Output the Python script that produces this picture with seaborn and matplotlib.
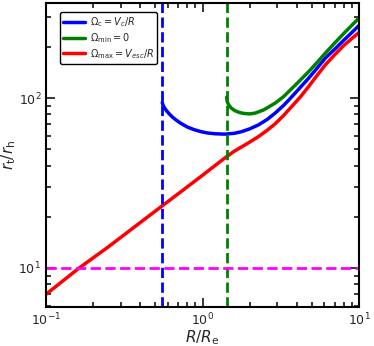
import numpy as np
import pandas as pd
import seaborn as sns
import matplotlib
matplotlib.use("Agg")
import matplotlib.pyplot as plt

# curves (R/Re, rt/rh)
r_blue = [0.553, 0.56, 0.573, 0.59, 0.61, 0.64, 0.68, 0.73, 0.80, 0.88, 0.97, 1.07, 1.2, 1.39,
          1.6, 1.78, 2.0, 2.28, 2.6, 2.91, 3.3, 3.73, 4.2, 4.77, 5.4, 6.1, 7.0, 8.0, 9.0, 10.0]
rt_blue = [94.1, 90.5, 87.2, 84.0, 81.0, 77.5, 74.0, 70.8, 67.5, 65.2, 63.5, 62.3, 61.6, 61.3,
           62.0, 63.4, 65.8, 69.5, 75.0, 81.5, 90.5, 102, 115, 131, 150, 172, 194, 219, 243, 267]

r_green = [1.426, 1.44, 1.47, 1.52, 1.6, 1.7, 1.82, 2.0, 2.17, 2.45, 2.91, 3.3, 3.73, 4.2,
           4.77, 5.4, 6.1, 7.0, 8.0, 9.0, 10.0]
rt_green = [101, 95.0, 91.0, 87.5, 84.5, 82.5, 81.2, 80.6, 81.5, 85.0, 93.3, 102, 114, 127,
            143, 162, 184, 211, 240, 268, 296]

r_red = [0.1, 0.163, 0.25, 0.4, 0.553, 0.75, 1.0, 1.2, 1.426, 1.6, 1.78, 2.0, 2.28, 2.6, 2.91,
         3.3, 3.73, 4.2, 4.77, 5.4, 6.1, 7.0, 8.0, 9.0, 10.0]
rt_red = [7.0, 10.0, 13.3, 18.5, 23.2, 28.7, 35.1, 40.0, 45.2, 48.7, 51.6, 55.0, 59.3, 64.8, 70.5,
          79.0, 89.5, 101, 117, 136, 157, 180, 204, 224, 243]

r_circ = 0.553   # blue dashed
r_min = 1.426    # green dashed
rt_floor = 10    # magenta dashed

sns.set_style("ticks")
plt.rcParams["mathtext.fontset"] = "dejavusans"

fig = plt.figure(figsize=(3.74, 3.46), dpi=100)
ax = fig.add_axes([0.123, 0.113, 0.837, 0.877])

sns.lineplot(x=r_blue, y=rt_blue, color="blue", lw=2.5, ax=ax, sort=False,
             label=r"$\Omega_{\rm c} = V_{c}/R$")
sns.lineplot(x=r_green, y=rt_green, color="green", lw=2.5, ax=ax, sort=False,
             label=r"$\Omega_{\rm min} = 0$")
sns.lineplot(x=r_red, y=rt_red, color="red", lw=2.5, ax=ax, sort=False,
             label=r"$\Omega_{\rm max} = V_{esc}/R$")

ax.axvline(r_circ, color="blue", ls="--", lw=2)
ax.axvline(r_min, color="green", ls="--", lw=2)
ax.axhline(rt_floor, color="magenta", ls="--", lw=2)

ax.set_xscale("log")
ax.set_yscale("log")
ax.set_xlim(0.1, 10)
ax.set_ylim(5.9, 360)

ax.set_xlabel(r"$R/R_{\rm e}$", fontsize=11, labelpad=0)
ax.set_ylabel(r"$r_{\rm t}/r_{\rm h}$", fontsize=11, labelpad=0)

ax.tick_params(which="both", direction="in", top=True, right=True, labelsize=9, width=1.3)
ax.tick_params(which="major", length=6.5)
ax.tick_params(which="minor", length=3.5)
for s in ax.spines.values():
    s.set_linewidth(1.5)
    s.set_color("black")

leg = ax.legend(loc="upper left", bbox_to_anchor=(0.045, 0.972), borderaxespad=0,
                fontsize=7, handlelength=2.2, handletextpad=0.5, labelspacing=0.2,
                borderpad=0.35, fancybox=True)
leg.get_frame().set_edgecolor("black")
leg.get_frame().set_linewidth(1)
leg.get_frame().set_alpha(1)

fig.savefig("out.png", dpi=100)
